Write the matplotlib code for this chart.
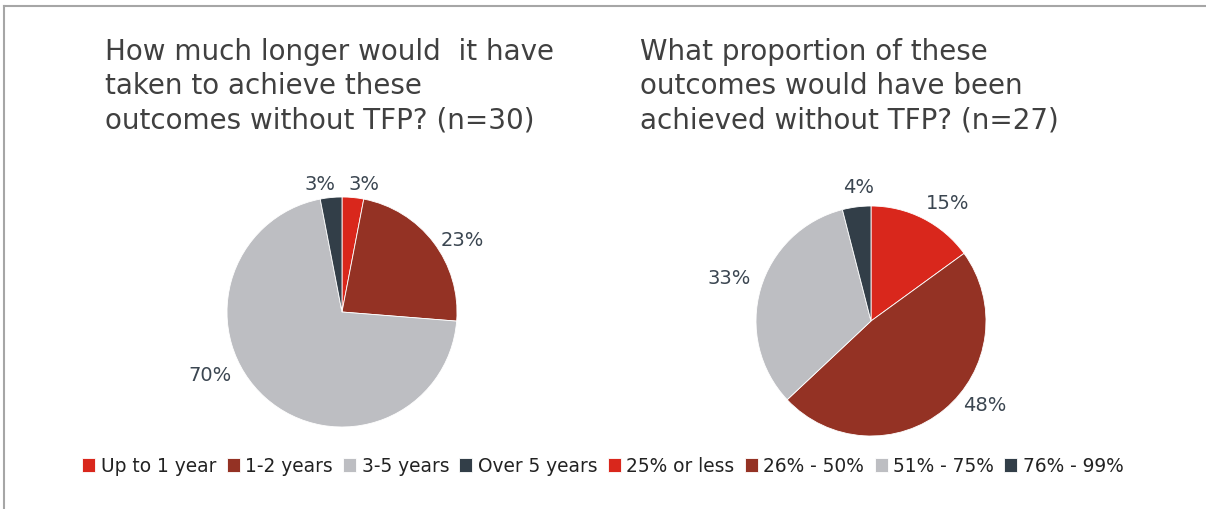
import numpy as np
import matplotlib.pyplot as plt
from matplotlib.lines import Line2D

# survey answers, in percent
time_labels = ["Up to 1 year", "1-2 years", "3-5 years", "Over 5 years"]
time_values = [3, 23, 70, 3]
share_labels = ["25% or less", "26% - 50%", "51% - 75%", "76% - 99%"]
share_values = [15, 48, 33, 4]

colors = ["#D9271C", "#943224", "#BDBEC2", "#323E48"]
text_col = "#3B4651"
title_col = "#404040"

W, H = 1206, 510
R = 115  # pie radius in pixels

fig = plt.figure(figsize=(W / 100, H / 100), dpi=100)
plt.rcParams['font.family'] = ['DejaVu Sans']


def pie_axes(cx, cy, half=200):
    ax = fig.add_axes([(cx - half) / W, 1 - (cy + half) / H, 2 * half / W, 2 * half / H])
    ax.set_aspect('equal')
    ax.axis('off')
    return ax


def draw_pie(ax, values, label_pos):
    wedges, texts = ax.pie(values, colors=colors, startangle=90, counterclock=False,
                           radius=1, labels=[f"{v}%" for v in values],
                           wedgeprops=dict(edgecolor='white', linewidth=0.6),
                           textprops=dict(color=text_col, fontsize=14))
    for t, (x, y) in zip(texts, label_pos):
        t.set_position((x, y))
        t.set_ha('center')
        t.set_va('center')
    ax.set_xlim(-200 / R, 200 / R)
    ax.set_ylim(-200 / R, 200 / R)
    return wedges


ax1 = pie_axes(342, 313)
w1 = draw_pie(ax1, time_values, [(0.19, 1.12), (1.05, 0.63), (-1.15, -0.54), (-0.19, 1.12)])

ax2 = pie_axes(871, 322)
w2 = draw_pie(ax2, share_values, [(0.67, 1.03), (0.99, -0.73), (-1.23, 0.38), (-0.11, 1.17)])

# titles
fig.text(105 / W, 1 - 38 / H, "How much longer would  it have\ntaken to achieve these\noutcomes without TFP? (n=30)",
         ha='left', va='top', fontsize=20, color=title_col, linespacing=1.29)
fig.text(640 / W, 1 - 38 / H, "What proportion of these\noutcomes would have been\nachieved without TFP? (n=27)",
         ha='left', va='top', fontsize=20, color=title_col, linespacing=1.29)

# legend across the bottom
leg = fig.legend(list(w1) + list(w2), time_labels + share_labels, ncol=8,
                 loc='center', bbox_to_anchor=(603 / W, 1 - 467 / H), frameon=False,
                 fontsize=13.4, handlelength=0.7, handleheight=0.7, handletextpad=0.3,
                 columnspacing=0.55, labelcolor='#222222')

# frame lines
fig.add_artist(Line2D([4 / W, 1], [1 - 7 / H, 1 - 7 / H], color='#A6A6A6', lw=1.5))
fig.add_artist(Line2D([4 / W, 4 / W], [0, 1 - 7 / H], color='#A6A6A6', lw=1.5))

fig.savefig("out.png", dpi=100)
